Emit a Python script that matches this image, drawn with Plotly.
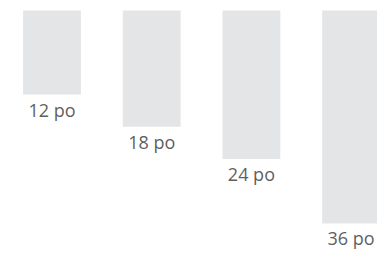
import plotly.graph_objects as go

sizes = [12, 18, 24, 36]
labels = ["12 po", "18 po", "24 po", "36 po"]
positions = [0, 1, 2, 3]
bar_base = -3.67  # bars start a little above zero in the reference

bar_color = "#E4E5E7"
text_color = "#5F5F5F"

fig = go.Figure(
    go.Bar(
        x=positions,
        y=[s - bar_base for s in sizes],
        base=bar_base,
        width=0.58,
        marker=dict(color=bar_color, line=dict(width=0)),
        text=labels,
        textposition="outside",
        cliponaxis=False,
        constraintext="none",
        textfont=dict(family="Open Sans", size=18, color=text_color),
        hoverinfo="skip",
    )
)

fig.update_layout(
    width=377,
    height=253,
    margin=dict(l=0, r=0, t=0, b=0),
    paper_bgcolor="white",
    plot_bgcolor="white",
    showlegend=False,
    xaxis=dict(range=[-0.5216, 3.2598], visible=False, fixedrange=True),
    yaxis=dict(range=[41.515, -5.626], visible=False, fixedrange=True),
)

fig.write_html(
    "out.html",
    config={"displayModeBar": False},
    post_script="document.body.style.margin='0';document.body.style.overflow='hidden';",
)
